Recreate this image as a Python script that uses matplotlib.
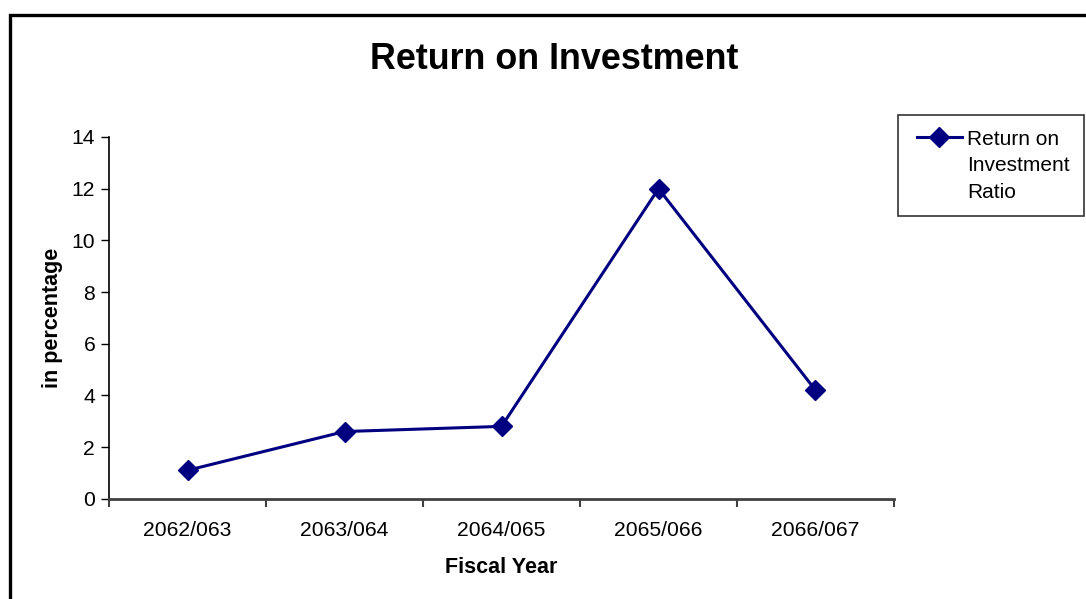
import numpy as np
import matplotlib.pyplot as plt
from matplotlib.patches import Rectangle
from matplotlib.legend_handler import HandlerLine2D
from matplotlib.ticker import FixedLocator, MultipleLocator

plt.rcParams['font.family'] = ['Liberation Sans', 'DejaVu Sans']

years = ['2062/063', '2063/064', '2064/065', '2065/066', '2066/067']
roi = [1.1, 2.6, 2.8, 12.0, 4.2]
series_name = 'Return on\nInvestment\nRatio'


class FirstLineHandler(HandlerLine2D):
    """Legend key drawn level with the first line of a multi-line label."""

    def __init__(self, left_gap=3.2, lift=21.0, **kw):
        super().__init__(**kw)
        self.left_gap = left_gap
        self.lift = lift

    def get_xdata(self, legend, xdescent, ydescent, width, height, fontsize):
        x0 = -xdescent + self.left_gap
        x1 = -xdescent + width
        return np.array([x0, x1]), np.array([(x0 + x1) / 2])

    def create_artists(self, *args, **kwargs):
        artists = super().create_artists(*args, **kwargs)
        for a in artists:
            a.set_ydata(np.asarray(a.get_ydata()) + self.lift)
        return artists


fig = plt.figure(figsize=(10.86, 5.99), dpi=100)
ax = fig.add_axes([0.1004, 0.1674, 0.7228, 0.6039])

# chart border, runs off the right and bottom edges
fig.patches.append(Rectangle((0.0092, -0.05), 1.2, 1.025, transform=fig.transFigure,
                             fill=False, edgecolor='black', linewidth=2.4, zorder=0))

x = list(range(len(years)))
line, = ax.plot(x, roi, color='#000080', linewidth=2.2, marker='D', markersize=10,
                markerfacecolor='#000080', markeredgecolor='#000080', label=series_name,
                clip_on=False)

ax.set_xlim(-0.5, len(years) - 0.5)
ax.set_ylim(0, 14)
ax.yaxis.set_major_locator(MultipleLocator(2))
ax.xaxis.set_major_locator(FixedLocator([i - 0.5 for i in range(len(years) + 1)]))
ax.xaxis.set_major_formatter(plt.NullFormatter())
ax.xaxis.set_minor_locator(FixedLocator(x))
ax.set_xticklabels(years, minor=True)

ax.tick_params(axis='x', which='major', direction='out', length=6, width=1.5, color='#404040')
ax.tick_params(axis='x', which='minor', length=0, labelsize=15.2, pad=16)
ax.tick_params(axis='y', direction='out', length=6, width=1, color='black', labelsize=15.2, pad=4)

for side in ('top', 'right'):
    ax.spines[side].set_visible(False)
ax.spines['left'].set_color('black')
ax.spines['left'].set_linewidth(1.2)
ax.spines['bottom'].set_color('#404040')
ax.spines['bottom'].set_linewidth(2)

ax.set_xlabel('Fiscal Year', fontsize=15.5, fontweight='bold', labelpad=12)
ax.set_ylabel('in percentage', fontsize=15.5, fontweight='bold', labelpad=6.2)
fig.text(0.510, 0.900, 'Return on Investment', ha='center', va='center',
         fontsize=25.8, fontweight='bold')

leg = ax.legend(handles=[line], loc='upper left',
                bbox_to_anchor=(898 / 1086, 1 - 115 / 599),
                bbox_transform=fig.transFigure, frameon=True, fancybox=False,
                fontsize=15, handlelength=2.37, handletextpad=0.24, borderpad=0.7,
                borderaxespad=0, handler_map={line: FirstLineHandler()})
leg.get_texts()[0].set_linespacing(1.5)
leg.get_frame().set_edgecolor('black')
leg.get_frame().set_linewidth(1.2)

fig.savefig('out.png', dpi=100)
